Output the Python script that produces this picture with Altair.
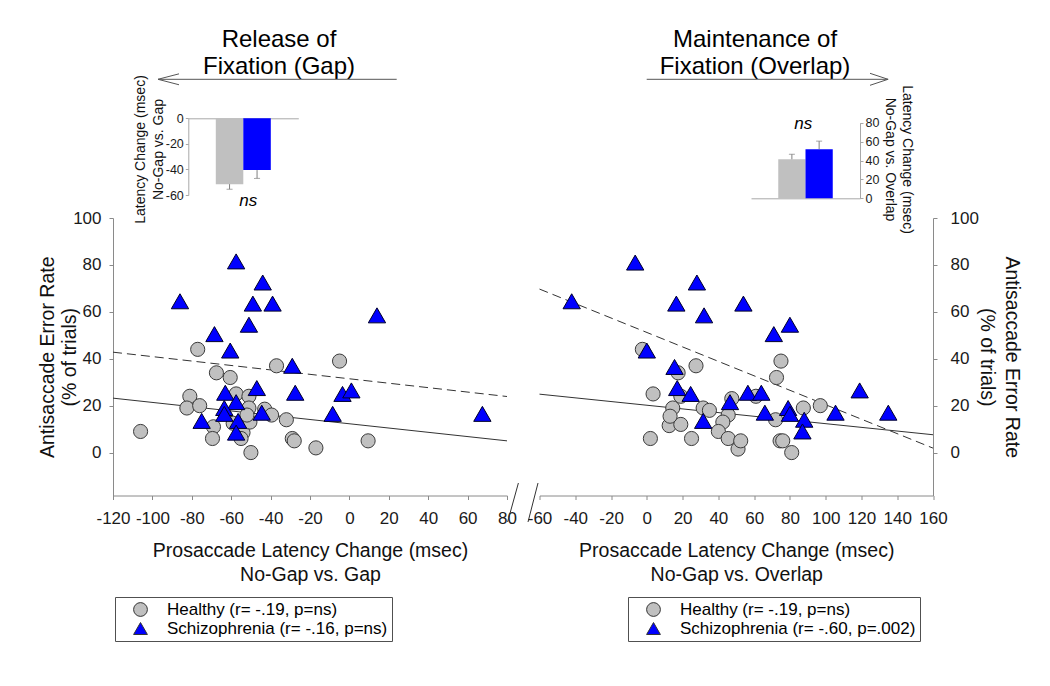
import altair as alt
import pandas as pd

FONT = "Liberation Sans"

# ---------------- data ----------------
# Left panel: No-Gap vs. Gap
gap_healthy_x = [-106, -77, -37, -5, -67.5, -60.5, -81, -82.5, -76, -57.5, -51, -51, -43, -39.5,
                 -32, -69, -69.5, -59, -54, -55, -50.5, -50, -29, -28, -17, 9.5, -52]
gap_healthy_y = [9, 44, 37, 39, 34, 32, 24, 19, 20, 25, 24, 19, 18.5, 16,
                 14, 11, 6, 12.5, 8.5, 6, 13, 0, 6, 5, 2, 5, 16]
gap_schiz_x = [-57.5, -44, -86, -49, -39, 14, -51, -68.5, -60.5, -29, -47, -27.5, -3.5, 1,
               -63, -57.5, -63.5, -63.5, -44.5, -56.5, -57.5, -75, -8.5, 67.5]
gap_schiz_y = [81.5, 72.5, 64.5, 63.5, 63.5, 58.5, 54.5, 50.5, 43.5, 37, 27.5, 25.5, 25, 26.5,
               25.5, 21.5, 19, 16.5, 17, 13.5, 8.5, 13.5, 16.5, 16.5]
gap_fit_x = [-120, 80]
gap_fit_healthy = [23.2, 5.0]
gap_fit_schiz = [42.8, 23.9]
gap_legend = ["Healthy (r= -.19, p=ns)", "Schizophrenia (r= -.16, p=ns)"]

# Right panel: No-Gap vs. Overlap
ovl_healthy_x = [-2.5, 27.5, 75, 72.5, 17.5, 3.5, 19, 47.5, 61, 14.5, 31.5, 35, 45.5, 87.5,
                 97, 72, 12.5, 19, 2, 25, 42.5, 40, 45.5, 51, 52.5, 74.5, 76, 81, 13]
ovl_healthy_y = [44, 37, 39, 32, 34, 25, 24, 23, 24, 19, 19, 18, 16, 19,
                 20, 14, 11.5, 12, 6, 6, 13, 9, 6, 1.5, 5, 5, 5, 0, 15.5]
ovl_schiz_x = [-6.5, 28, -42, 16.5, 54, 32, 80, 71, 0, 15.5, 17, 24.5, 46.5, 56.5,
               64, 119, 66, 79, 80, 105.5, 135, 88, 87, 31.5]
ovl_schiz_y = [81, 72.5, 64.5, 63.5, 63.5, 58.5, 54.5, 50.5, 43.5, 36.5, 27.5, 25, 21.5, 25.5,
               25.5, 26.5, 17, 19, 16.5, 17, 17, 14, 9, 13.5]
ovl_fit_x = [-60, 160]
ovl_fit_healthy = [24.9, 7.6]
ovl_fit_schiz = [69.7, 1.9]
ovl_legend = ["Healthy (r= -.19, p=ns)", "Schizophrenia (r= -.60, p=.002)"]

# Inset bar charts (latency change)
bar_groups = ["Healthy", "Schizophrenia"]
bar_colors = ["#c0c0c0", "#0000ff"]
gap_bar_means = [-51.5, -40.5]
gap_bar_err_ends = [-55.5, -47.0]
ovl_bar_means = [41.3, 52.0]
ovl_bar_err_ends = [46.6, 60.5]

Y_DOM = [-18.3, 100]
L_W, R_W, H = 394, 393.5, 277.5
SYM_COLORS = ["#c0c0c0", "#0000ff"]
SYM_SHAPES = ["circle", "triangle-up"]


def one_row():
    return pd.DataFrame({"a": [0]})


def scatter(hx, hy, sx, sy, fx, fh, fs, xdom, labels, yaxis, xtitle, legxy, lab_off):
    dh = pd.DataFrame({"x": hx, "y": hy, "grp": labels[0]})
    ds = pd.DataFrame({"x": sx, "y": sy, "grp": labels[1]})
    X = alt.X("x:Q", scale=alt.Scale(domain=xdom, nice=False, zero=False),
              axis=alt.Axis(values=list(range(xdom[0], xdom[1] + 1, 20)), labelExpr="'' + datum.value",
                            labelFontSize=17, tickSize=4, labelPadding=11, labelFlush=False,
                            labelOverlap=False, title=xtitle, titleFontSize=19.5,
                            titleLineHeight=24, titlePadding=15, titleLimit=600))
    Y = alt.Y("y:Q", scale=alt.Scale(domain=Y_DOM, nice=False, zero=False), axis=yaxis)
    leg = alt.Legend(orient="none", legendX=legxy[0], legendY=legxy[1], title=None,
                     direction="vertical", labelFont=FONT, labelFontSize=17, labelColor="black",
                     labelLimit=600, symbolSize=190, symbolStrokeColor="#333333",
                     symbolStrokeWidth=1, symbolOffset=13, labelOffset=lab_off, padding=4,
                     rowPadding=0, strokeColor="#505050", fillColor="white")
    color = alt.Color("grp:N", scale=alt.Scale(domain=labels, range=SYM_COLORS), legend=leg)
    shape = alt.Shape("grp:N", scale=alt.Scale(domain=labels, range=SYM_SHAPES), legend=leg)
    line_h = alt.Chart(pd.DataFrame({"x": fx, "y": fh})).mark_line(
        color="#333333", strokeWidth=1).encode(x=X, y=Y)
    line_s = alt.Chart(pd.DataFrame({"x": fx, "y": fs})).mark_line(
        color="#333333", strokeWidth=1, strokeDash=[9, 5]).encode(x=X, y=Y)
    circ = alt.Chart(dh).mark_point(filled=True, size=200, stroke="#3a3a3a", strokeWidth=1,
                                    opacity=1).encode(x=X, y=Y, color=color, shape=shape)
    tri = alt.Chart(ds).mark_point(filled=True, size=300, stroke="#00002a", strokeWidth=1,
                                   opacity=1).encode(x=X, y=Y, color=color, shape=shape)
    return alt.layer(line_h, line_s, circ, tri)


def inset(means, ends, xrange, xoff, ydom, yrange, yvals, orient, yoff, tx, ty, angle, title, lh):
    df = pd.DataFrame({"g": bar_groups, "v": means, "e": ends, "c": bar_colors})
    X = alt.X("g:N", scale=alt.Scale(domain=bar_groups, range=xrange, paddingInner=0, paddingOuter=1),
              axis=alt.Axis(orient="top", offset=xoff, labels=False, ticks=False, title=None,
                            domainColor="#a8a8a8"))
    ys = alt.Scale(domain=ydom, range=yrange, nice=False, zero=False)
    yax = alt.Axis(orient=orient, offset=yoff, values=yvals, labelExpr="'' + datum.value",
                   labelFontSize=12.5, tickSize=3, labelPadding=2, domainColor="#a8a8a8",
                   tickColor="#a8a8a8", title=title, titleFontSize=14, titleLineHeight=lh,
                   titleX=tx, titleY=ty, titleAngle=angle, titleBaseline="bottom", titleLimit=500)
    bars = alt.Chart(df).mark_bar().encode(x=X, y=alt.Y("v:Q", scale=ys, axis=yax),
                                           color=alt.Color("c:N", scale=None))
    err = alt.Chart(df).mark_rule(color="#808080", strokeWidth=1).encode(
        x=X, y=alt.Y("v:Q", scale=ys, axis=yax), y2="e:Q")
    cap = alt.Chart(df).mark_tick(color="#808080", size=6, thickness=1).encode(
        x=X, y=alt.Y("e:Q", scale=ys, axis=yax))
    return alt.layer(bars, err, cap)


def text_mark(lines, x, y, size, italic=False, lh=27.6):
    return alt.Chart(one_row()).mark_text(
        text=lines, font=FONT, fontSize=size, fontStyle="italic" if italic else "normal",
        align="center", baseline="alphabetic", lineHeight=lh, color="black"
    ).encode(x=alt.value(x), y=alt.value(y))


def rule(x1, y1, x2, y2, color="#555555", opacity=1):
    return alt.Chart(one_row()).mark_rule(color=color, strokeWidth=1, strokeOpacity=opacity).encode(
        x=alt.value(x1), y=alt.value(y1), x2=alt.value(x2), y2=alt.value(y2))


def chevron(x, y, path, size):
    return alt.Chart(one_row()).mark_point(shape=path, size=size, filled=False, color="#555555",
                                           strokeWidth=1, opacity=1).encode(
        x=alt.value(x), y=alt.value(y))


# ---------------- left panel ----------------
left_yaxis = alt.Axis(orient="left", values=[0, 20, 40, 60, 80, 100], labelExpr="'' + datum.value",
                      labelFontSize=17, tickSize=4, labelPadding=8,
                      title=["Antisaccade Error Rate", "(% of trials)"], titleFontSize=19.5,
                      titleLineHeight=22.7, titleX=-56, titleAngle=-90, titleBaseline="bottom",
                      titleLimit=600)
left_sc = scatter(gap_healthy_x, gap_healthy_y, gap_schiz_x, gap_schiz_y, gap_fit_x,
                  gap_fit_healthy, gap_fit_schiz, [-120, 80], gap_legend, left_yaxis,
                  ["Prosaccade Latency Change (msec)", "No-Gap vs. Gap"], (2, 379), 18)
left_in = inset(gap_bar_means, gap_bar_err_ends, [75.3, 185.3], 99.7, [-60, 0], [-23, -99.7],
                [-60, -40, -20, 0], "left", -75.3, -40.7, -69, -90,
                ["Latency Change (msec)", "No-Gap vs. Gap"], 18.3)
left_panel = alt.layer(
    left_sc, left_in,
    text_mark(["Release of", "Fixation (Gap)"], 166, -171.3, 24),
    rule(45, -138.7, 283.7, -138.7),
    chevron(55.5, -138.7, "M1,-0.52L-1,0L1,0.52", 441),
    text_mark("ns", 135.3, -12, 17, italic=True),
    rule(405.4, 265, 394.6, 304, color="#333333"),
    rule(425, 265, 415, 304, color="#333333"),
    rule(-104.5, -209.5, -100, -209.5, opacity=0),
).resolve_scale(x="independent", y="independent").properties(width=L_W, height=H)

# ---------------- right panel ----------------
right_yaxis = alt.Axis(orient="right", values=[0, 20, 40, 60, 80, 100], labelExpr="'' + datum.value",
                       labelFontSize=17, tickSize=4, labelPadding=13,
                       title=["Antisaccade Error Rate", "(% of trials)"], titleFontSize=19.5,
                       titleLineHeight=25.7, titleX=68.7, titleAngle=90, titleBaseline="bottom",
                       titleLimit=600)
right_sc = scatter(ovl_healthy_x, ovl_healthy_y, ovl_schiz_x, ovl_schiz_y, ovl_fit_x,
                   ovl_fit_healthy, ovl_fit_schiz, [-60, 160], ovl_legend, right_yaxis,
                   ["Prosaccade Latency Change (msec)", "No-Gap vs. Overlap"], (88.5, 379), 18)
right_in = inset(ovl_bar_means, ovl_bar_err_ends, [211.5, 320.5], 19.7, [0, 80], [-19.7, -95.3],
                 [0, 20, 40, 60, 80], "right", -73, 39, -59, 90,
                 ["Latency Change (msec)", "No-Gap vs. Overlap"], 16.7)
right_panel = alt.layer(
    right_sc, right_in,
    text_mark(["Maintenance of", "Fixation (Overlap)"], 215.5, -171.3, 24),
    rule(107.2, -138.7, 348.8, -138.7),
    chevron(339.5, -138.7, "M-1,-0.667L1,0L-1,0.667", 324),
    text_mark("ns", 263.8, -89, 17, italic=True),
    rule(490, 0, 495, 0, opacity=0),
).resolve_scale(x="independent", y="independent").properties(width=R_W, height=H)

chart = alt.hconcat(left_panel, right_panel, spacing=32.5, bounds="flush").resolve_scale(
    x="independent", y="independent", color="independent", shape="independent"
).properties(padding=0).configure(font=FONT).configure_axis(
    grid=False, domainColor="#8a8a8a", tickColor="#8a8a8a", labelColor="#1a1a1a",
    titleColor="#111111", labelFont=FONT, titleFont=FONT, titleFontWeight="normal"
).configure_view(stroke=None)

chart.save("out.html", embed_options={"renderer": "svg", "actions": False})
